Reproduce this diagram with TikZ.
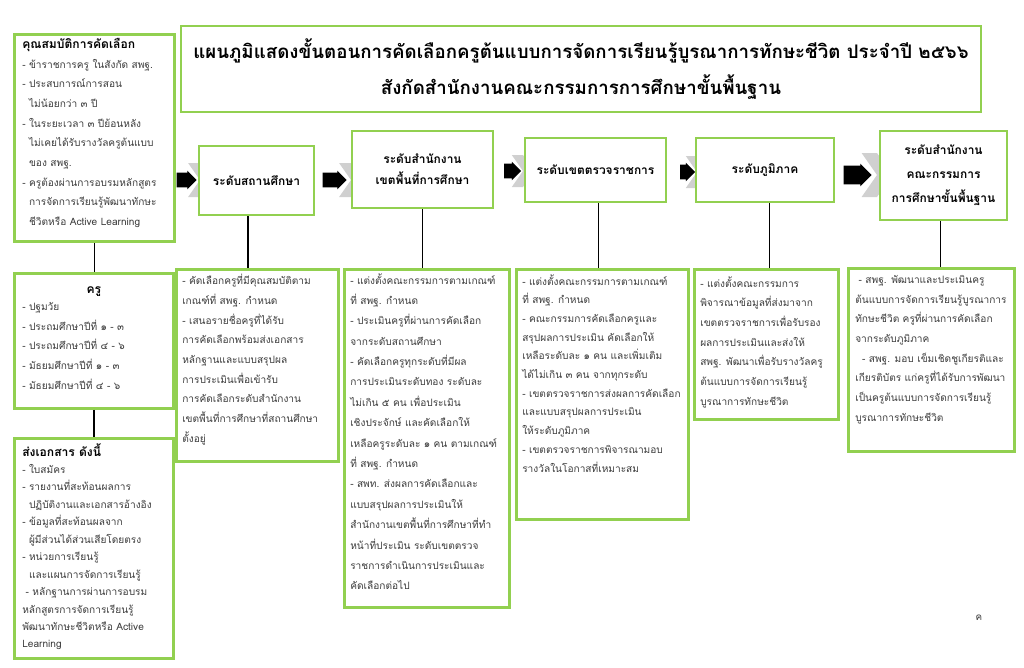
\documentclass[tikz,border=0pt]{standalone}
\usepackage{fontspec}
\setmainfont{Loma}[Script=Thai]
\usetikzlibrary{shapes.arrows, shapes.symbols, positioning, calc}
\definecolor{boxgreen}{RGB}{146, 208, 80}
\definecolor{bodygray}{RGB}{60, 60, 60}
\definecolor{shadegray}{RGB}{208, 208, 208}
\newcommand{\px}[1]{#1*0.025cm}
\newcommand{\ind}{\phantom{-\ }}
\tikzset{
  greenbox/.style={draw=boxgreen, line width=2pt, fill=white, inner sep=0pt, anchor=north west},
  headbox/.style={draw=boxgreen, line width=2pt, fill=white, align=center, font=\bfseries\fontsize{8.5}{15}\selectfont},
  bodytext/.style={anchor=north west, align=left, inner sep=0pt, text=bodygray, font=\fontsize{7.2}{14}\selectfont},
  blkarrow/.style={single arrow, fill=black, inner xsep=0pt, inner ysep=\px{7}, single arrow head extend=\px{2}},
  chevron/.style={signal, signal from=west, signal to=east, signal pointer angle=110, fill=shadegray, inner sep=0pt},
  link/.style={line width=1pt},
}

\begin{document}
\begin{tikzpicture}[x=0.025cm, y=-0.025cm]
  \useasboundingbox (0,0) rectangle (1024,667);

  % title
  \node[draw=boxgreen, line width=2pt, minimum width=\px{800}, minimum height=\px{86}, align=center,
        font=\bfseries\fontsize{13.3}{25}\selectfont] (title) at (581,69)
    {แผนภูมิแสดงขั้นตอนการคัดเลือกครูต้นแบบการจัดการเรียนรู้บูรณาการทักษะชีวิต ประจำปี ๒๕๖๖\\
     สังกัดสำนักงานคณะกรรมการการศึกษาขั้นพื้นฐาน};

  % left column
  \node[greenbox, minimum width=\px{160}, minimum height=\px{207}] (qual) at (13,33) {};
  \node[bodytext] (qualtxt) at ([shift={(9,5)}]qual.north west)
    {{\bfseries\color{black}\fontsize{8.6}{14}\selectfont คุณสมบัติการคัดเลือก}\\
     - ข้าราชการครู ในสังกัด สพฐ.\\
     - ประสบการณ์การสอน\\
     \ind ไม่น้อยกว่า ๓ ปี\\
     - ในระยะเวลา ๓ ปีย้อนหลัง\\
     \ind ไม่เคยได้รับรางวัลครูต้นแบบ\\
     \ind ของ สพฐ.\\
     - ครูต้องผ่านการอบรมหลักสูตร\\
     \ind การจัดการเรียนรู้พัฒนาทักษะ\\
     \ind ชีวิตหรือ Active Learning};

  \node[greenbox, minimum width=\px{159}, minimum height=\px{135}] (kru) at (13,272) {};
  \node[font=\bfseries\fontsize{8.6}{14}\selectfont, inner sep=0pt] (krutitle) at ([yshift=\px{-20}]kru.north) {ครู};
  \node[bodytext] (krutxt) at ([shift={(9,30)}]kru.north west)
    {- ปฐมวัย\\
     - ประถมศึกษาปีที่ ๑ - ๓\\
     - ประถมศึกษาปีที่ ๔ - ๖\\
     - มัธยมศึกษาปีที่ ๑ - ๓\\
     - มัธยมศึกษาปีที่ ๔ - ๖};

  \node[greenbox, minimum width=\px{159}, minimum height=\px{220}] (docs) at (13,437) {};
  \node[bodytext, font=\fontsize{7.2}{12.4}\selectfont] (docstxt) at ([shift={(9,6)}]docs.north west)
    {{\bfseries\color{black}\fontsize{8.6}{13}\selectfont ส่งเอกสาร ดังนี้}\\
     - ใบสมัคร\\
     - รายงานที่สะท้อนผลการ\\
     \ind ปฏิบัติงานและเอกสารอ้างอิง\\
     - ข้อมูลที่สะท้อนผลจาก\\
     \ind ผู้มีส่วนได้ส่วนเสียโดยตรง\\
     - หน่วยการเรียนรู้\\
     \ind และแผนการจัดการเรียนรู้\\
     \ - หลักฐานการผ่านการอบรม\\
     หลักสูตรการจัดการเรียนรู้\\
     พัฒนาทักษะชีวิตหรือ Active\\
     Learning};

  % arrows between levels
  \node[chevron, minimum width=\px{15}, minimum height=\px{34}] (chev1) at (200,180) {};
  \node[blkarrow, minimum height=\px{20}, minimum width=\px{17}] (arr1) at (183,180) {};
  \node[chevron, minimum width=\px{15}, minimum height=\px{34}] (chev2) at (351,180) {};
  \node[blkarrow, minimum height=\px{24}, minimum width=\px{17}] (arr2) at (331,180) {};
  \node[chevron, minimum width=\px{14}, minimum height=\px{32}] (chev3) at (523,171) {};
  \node[blkarrow, minimum height=\px{17}, minimum width=\px{17}] (arr3) at (509,171) {};
  \node[chevron, minimum width=\px{14}, minimum height=\px{32}] (chev4) at (697,172) {};
  \node[blkarrow, minimum height=\px{15}, minimum width=\px{17}] (arr4) at (684,172) {};
  \node[chevron, minimum width=\px{18}, minimum height=\px{44}] (chev5) at (877,175) {};
  \node[blkarrow, minimum height=\px{28}, minimum width=\px{22}, inner ysep=\px{9}] (arr5) at (853,175) {};

  % level boxes
  \node[headbox, minimum width=\px{115}, minimum height=\px{69}] (lvl1) at (256.5,180.5) {ระดับสถานศึกษา};
  \node[headbox, minimum width=\px{141}, minimum height=\px{77}] (lvl2) at (422.5,169.5) {ระดับสำนักงาน\\เขตพื้นที่การศึกษา};
  \node[headbox, minimum width=\px{141}, minimum height=\px{64}] (lvl3) at (595.5,170) {ระดับเขตตรวจราชการ};
  \node[headbox, minimum width=\px{138}, minimum height=\px{64}] (lvl4) at (765,170) {ระดับภูมิภาค};
  \node[headbox, minimum width=\px{127}, minimum height=\px{89}, font=\bfseries\fontsize{8.5}{17}\selectfont] (lvl5) at (943.5,175.5)
    {ระดับสำนักงาน\\คณะกรรมการ\\การศึกษาขั้นพื้นฐาน};

  % task boxes
  \node[greenbox, minimum width=\px{162}, minimum height=\px{192}] (task1) at (175,268) {};
  \node[bodytext] (task1txt) at ([shift={(7,6)}]task1.north west)
    {- คัดเลือกครูที่มีคุณสมบัติตาม\\
     เกณฑ์ที่ สพฐ. กำหนด\\
     - เสนอรายชื่อครูที่ได้รับ\\
     การคัดเลือกพร้อมส่งเอกสาร\\
     หลักฐานและแบบสรุปผล\\
     การประเมินเพื่อเข้ารับ\\
     การคัดเลือกระดับสำนักงาน\\
     เขตพื้นที่การศึกษาที่สถานศึกษา\\
     ตั้งอยู่};

  \node[greenbox, minimum width=\px{165}, minimum height=\px{338}] (task2) at (343,268) {};
  \node[bodytext, font=\fontsize{7.2}{14.5}\selectfont] (task2txt) at ([shift={(7,5)}]task2.north west)
    {- แต่งตั้งคณะกรรมการตามเกณฑ์\\
     ที่ สพฐ. กำหนด\\
     - ประเมินครูที่ผ่านการคัดเลือก\\
     จากระดับสถานศึกษา\\
     - คัดเลือกครูทุกระดับที่มีผล\\
     การประเมินระดับทอง ระดับละ\\
     ไม่เกิน ๕ คน เพื่อประเมิน\\
     เชิงประจักษ์ และคัดเลือกให้\\
     เหลือครูระดับละ ๑ คน ตามเกณฑ์\\
     ที่ สพฐ. กำหนด\\
     - สพท. ส่งผลการคัดเลือกและ\\
     แบบสรุปผลการประเมินให้\\
     สำนักงานเขตพื้นที่การศึกษาที่ทำ\\
     หน้าที่ประเมิน ระดับเขตตรวจ\\
     ราชการดำเนินการประเมินและ\\
     คัดเลือกต่อไป};

  \node[greenbox, minimum width=\px{172}, minimum height=\px{250}] (task3) at (515,268) {};
  \node[bodytext, font=\fontsize{7.2}{13.3}\selectfont] (task3txt) at ([shift={(7,6)}]task3.north west)
    {- แต่งตั้งคณะกรรมการตามเกณฑ์\\
     ที่ สพฐ. กำหนด\\
     - คณะกรรมการคัดเลือกครูและ\\
     สรุปผลการประเมิน คัดเลือกให้\\
     เหลือระดับละ ๑ คน และเพิ่มเติม\\
     ได้ไม่เกิน ๓ คน จากทุกระดับ\\
     - เขตตรวจราชการส่งผลการคัดเลือก\\
     และแบบสรุปผลการประเมิน\\
     ให้ระดับภูมิภาค\\
     - เขตตรวจราชการพิจารณามอบ\\
     รางวัลในโอกาสที่เหมาะสม};

  \node[greenbox, minimum width=\px{144}, minimum height=\px{150}] (task4) at (693,268) {};
  \node[bodytext] (task4txt) at ([shift={(7,8)}]task4.north west)
    {- แต่งตั้งคณะกรรมการ\\
     พิจารณาข้อมูลที่ส่งมาจาก\\
     เขตตรวจราชการเพื่อรับรอง\\
     ผลการประเมินและส่งให้\\
     สพฐ. พัฒนาเพื่อรับรางวัลครู\\
     ต้นแบบการจัดการเรียนรู้\\
     บูรณาการทักษะชีวิต};

  \node[greenbox, minimum width=\px{166}, minimum height=\px{183}] (task5) at (847,267) {};
  \node[bodytext] (task5txt) at ([shift={(8,8)}]task5.north west)
    {\ - สพฐ. พัฒนาและประเมินครู\\
     ต้นแบบการจัดการเรียนรู้บูรณาการ\\
     ทักษะชีวิต ครูที่ผ่านการคัดเลือก\\
     จากระดับภูมิภาค\\
     \ \ - สพฐ. มอบ เข็มเชิดชูเกียรติและ\\
     เกียรติบัตร แก่ครูที่ได้รับการพัฒนา\\
     เป็นครูต้นแบบการจัดการเรียนรู้\\
     บูรณาการทักษะชีวิต};

  % connectors
  \draw[link] (qual.south) -- (qual.south |- kru.north);
  \draw[link] (kru.south) -- (kru.south |- docs.north);
  \draw[link] ([xshift=-6pt]lvl1.south) -- ([xshift=-6pt]lvl1.south |- task1.north);
  \draw[link] (lvl2.south) -- (lvl2.south |- task2.north);
  \draw[link] ([xshift=2pt]lvl3.south) -- ([xshift=2pt]lvl3.south |- task3.north);
  \draw[link] ([xshift=3pt]lvl4.south) -- ([xshift=3pt]lvl4.south |- task4.north);
  \draw[link] ([xshift=-2pt]lvl5.south) -- ([xshift=-2pt]lvl5.south |- task5.north);

  \node[text=bodygray, font=\fontsize{7}{8}\selectfont] (pagemark) at (979,618) {ค};
\end{tikzpicture}
\end{document}
